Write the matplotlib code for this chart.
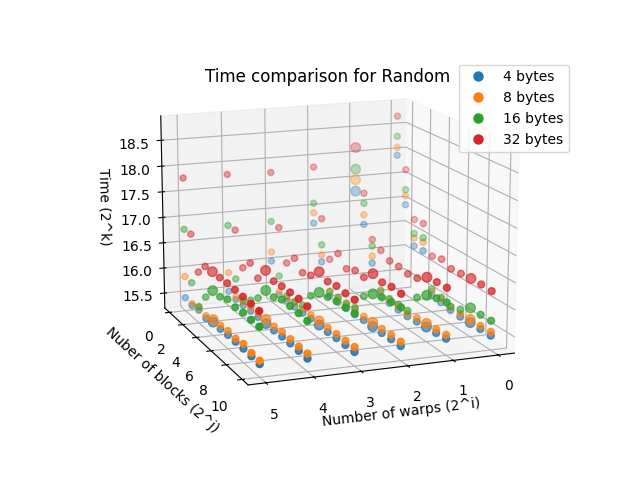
import matplotlib
matplotlib.use("Agg")
import matplotlib.pyplot as plt
from matplotlib.lines import Line2D
import numpy as np

# exponents: warps = 2^i, blocks = 2^j ; values are log2(time) = k
warps = [0, 1, 2, 3, 4, 5]
blocks = [0, 1, 2, 3, 4, 5, 6, 7, 8, 9, 10]
series_labels = ['4 bytes', '8 bytes', '16 bytes', '32 bytes']

# rows: warps exponent 0..5, columns: blocks exponent 0..10
time_4 = [
    [17.92, 17.02, 16.29, 16.30, 15.52, 15.50, 15.47, 15.46, 15.47, 15.47, 15.47],
    [17.27, 16.70, 16.03, 15.48, 15.46, 15.45, 15.44, 15.46, 15.48, 15.49, 15.51],
    [16.70, 16.03, 15.46, 15.45, 15.45, 15.45, 15.46, 15.46, 15.46, 15.47, 15.47],
    [16.02, 15.46, 15.44, 15.45, 15.45, 15.46, 15.46, 15.45, 15.46, 15.46, 15.46],
    [15.50, 15.45, 15.45, 15.46, 15.46, 15.46, 15.45, 15.46, 15.46, 15.45, 15.44],
    [15.46, 15.42, 15.45, 15.41, 15.46, 15.45, 15.46, 15.46, 15.46, 15.45, 15.44],
]
time_8 = [
    [18.08, 17.20, 16.45, 16.47, 15.60, 15.57, 15.53, 15.52, 15.53, 15.53, 15.54],
    [17.50, 16.89, 16.17, 15.57, 15.53, 15.52, 15.49, 15.53, 15.55, 15.56, 15.58],
    [16.91, 16.17, 15.55, 15.52, 15.52, 15.53, 15.53, 15.54, 15.54, 15.55, 15.55],
    [16.20, 15.52, 15.50, 15.52, 15.53, 15.53, 15.54, 15.53, 15.54, 15.54, 15.55],
    [15.87, 15.50, 15.52, 15.53, 15.53, 15.54, 15.53, 15.55, 15.54, 15.53, 15.53],
    [15.88, 15.46, 15.50, 15.46, 15.51, 15.52, 15.54, 15.52, 15.55, 15.51, 15.50],
]
time_16 = [
    [18.30, 17.32, 16.54, 16.56, 15.65, 15.60, 15.54, 15.60, 15.75, 15.74, 15.75],
    [17.71, 17.12, 16.37, 15.60, 15.55, 15.55, 15.55, 15.92, 16.08, 16.14, 16.18],
    [17.10, 16.37, 15.55, 15.55, 15.55, 15.58, 15.92, 16.08, 16.13, 16.16, 16.18],
    [16.81, 15.83, 15.55, 15.55, 15.60, 15.90, 16.08, 16.11, 16.15, 16.15, 16.16],
    [16.81, 15.86, 15.55, 15.67, 15.83, 16.09, 16.08, 16.15, 16.15, 16.14, 16.12],
    [16.81, 15.87, 15.52, 15.82, 16.06, 16.06, 16.13, 16.10, 16.12, 16.11, 16.11],
]
time_32 = [
    [18.70, 17.72, 16.82, 16.84, 16.30, 16.35, 16.27, 16.29, 16.31, 16.31, 16.30],
    [18.14, 17.32, 16.50, 16.39, 16.29, 16.29, 16.26, 16.29, 16.42, 16.44, 16.45],
    [17.82, 16.89, 16.19, 16.41, 16.22, 16.30, 16.28, 16.46, 16.41, 16.44, 16.43],
    [17.78, 16.79, 16.20, 16.40, 16.23, 16.29, 16.47, 16.40, 16.43, 16.41, 16.41],
    [17.81, 16.82, 16.19, 16.39, 16.21, 16.47, 16.38, 16.40, 16.40, 16.40, 16.38],
    [17.81, 16.82, 16.19, 16.41, 16.42, 16.42, 16.43, 16.42, 16.41, 16.40, 16.39],
]
all_times = [time_4, time_8, time_16, time_32]

# (warps, blocks) points drawn with a larger marker
big_points = [(1, 0), (5, 4), (4, 5), (3, 6), (2, 7), (1, 8), (0, 8)]

colors = ['tab:blue', 'tab:orange', 'tab:green', 'tab:red']

fig = plt.figure(figsize=(6.4, 4.8), dpi=100)
ax = fig.add_subplot(111, projection='3d')
ax.set_position([0.125, 0.1225, 0.775, 0.77])

for times, color, label in zip(all_times, colors, series_labels):
    xs, ys, zs, ss = [], [], [], []
    for a, i in enumerate(warps):
        for b, j in enumerate(blocks):
            xs.append(i)
            ys.append(j)
            zs.append(times[a][b])
            ss.append(48 if (i, j) in big_points else 19 + 0.6 * j)
    ax.scatter(xs, ys, zs, s=ss, c=color, label=label)

ax.set_xlim(-0.365, 5.365)
ax.set_ylim(-0.73, 10.73)
ax.set_zlim(15.2, 18.97)
ax.set_xticks([0, 1, 2, 3, 4, 5])
ax.set_yticks([0, 2, 4, 6, 8, 10])
ax.set_zticks([15.5, 16.0, 16.5, 17.0, 17.5, 18.0, 18.5])
ax.set_box_aspect((4, 4, 3), zoom=1.15)

ax.set_xlabel('Number of warps (2^i)', labelpad=0)
ax.set_ylabel('Nuber of blocks (2^j)', labelpad=1)
ax.set_zlabel('Time (2^k)')
ax.set_title('Time comparison for Random', y=0.974)
ax.view_init(elev=14, azim=69)

handles = [Line2D([], [], linestyle='none', marker='o', markersize=6.5,
                  color=c, label=l) for c, l in zip(colors, series_labels)]
ax.legend(handles=handles, loc='upper right', bbox_to_anchor=(0.9, 0.88),
          bbox_transform=fig.transFigure)

fig.savefig('out.png', dpi=100)
